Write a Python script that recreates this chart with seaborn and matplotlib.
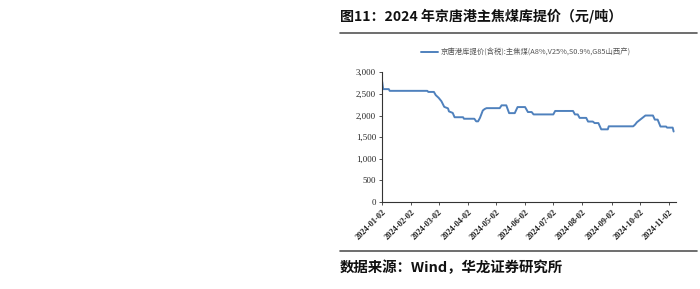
import matplotlib
matplotlib.use("Agg")
import matplotlib.pyplot as plt
import matplotlib.dates as mdates
from matplotlib.lines import Line2D
from matplotlib.ticker import FuncFormatter
import seaborn as sns
import pandas as pd
import numpy as np

# ---- data ----
start_date = "2024-01-02"
day_offsets = [0, 1, 7, 8, 48, 49, 55, 57, 60, 63, 66, 70, 71, 75, 77, 86, 87, 98,
               100, 102, 104, 107, 109, 111, 125, 127, 132, 135, 141, 144, 152, 155,
               159, 161, 182, 184, 203, 205, 208, 210, 217, 219, 224, 226, 230, 233,
               240, 241, 267, 269, 271, 280, 288, 290, 293, 296, 302, 303, 309, 310]
prices = [2780, 2610, 2610, 2570, 2570, 2545, 2545, 2470, 2410, 2330, 2200, 2165, 2095,
          2060, 1960, 1960, 1925, 1925, 1865, 1865, 1945, 2115, 2150, 2170, 2170, 2235,
          2235, 2055, 2055, 2195, 2195, 2080, 2080, 2025, 2025, 2105, 2105, 2025, 2025,
          1945, 1945, 1860, 1860, 1825, 1825, 1680, 1680, 1750, 1750, 1790, 1845, 2000,
          2000, 1905, 1905, 1745, 1745, 1720, 1720, 1630]
tick_labels = ["2024-01-02", "2024-02-02", "2024-03-02", "2024-04-02", "2024-05-02",
               "2024-06-02", "2024-07-02", "2024-08-02", "2024-09-02", "2024-10-02",
               "2024-11-02"]
y_ticks = [0, 500, 1000, 1500, 2000, 2500, 3000]
series_name = "京唐港库提价(含税):主焦煤(A8%,V25%,S0.9%,G85山西产)"
title_text = "图11：2024 年京唐港主焦煤库提价（元/吨）"
source_text = "数据来源：Wind，华龙证券研究所"

df = pd.DataFrame({
    "date": pd.to_datetime(start_date) + pd.to_timedelta(day_offsets, unit="D"),
    "price": prices,
})

sns.set_theme(style="white")
plt.rcParams["font.family"] = ["Noto Sans CJK SC", "DejaVu Sans"]

fig = plt.figure(figsize=(7, 2.89), dpi=100)
ax = fig.add_axes([0.546, 0.301, 0.419, 0.449])

sns.lineplot(data=df, x="date", y="price", ax=ax, color="#4F81BD", linewidth=1.4,
             label=series_name)

ax.set_xlim(pd.Timestamp("2024-01-02"), pd.Timestamp("2024-11-09"))
ax.set_ylim(0, 3000)
ax.set_yticks(y_ticks)
ax.yaxis.set_major_formatter(FuncFormatter(lambda v, p: f"{int(v):,}"))
ticks = pd.to_datetime(tick_labels)
ax.set_xticks(ticks)
ax.set_xticklabels(tick_labels, rotation=45, ha="right", rotation_mode="anchor",
                   fontsize=6, fontweight="bold", family=["Liberation Serif"],
                   color="#222222")
for lab in ax.get_yticklabels():
    lab.set_fontsize(6.3)
    lab.set_family(["Liberation Serif"])
    lab.set_color("#222222")
ax.set_xlabel("")
ax.set_ylabel("")
for s in ["top", "right"]:
    ax.spines[s].set_visible(False)
for s in ["left", "bottom"]:
    ax.spines[s].set_color("#333333")
    ax.spines[s].set_linewidth(0.8)
ax.tick_params(axis="both", which="major", direction="out", length=2.5, width=0.6,
               color="#333333", pad=2, bottom=True, left=True)

leg = ax.legend(loc="lower center", bbox_to_anchor=(0.49, 1.07), frameon=False,
                fontsize=5.3, handlelength=2.3, handletextpad=0.4)
for t in leg.get_texts():
    t.set_color("#555555")

# title, rules, source
fig.text(340 / 700, 1 - 16 / 289, title_text, fontsize=10.1, fontweight="bold",
         va="center", ha="left", color="#111111")
fig.add_artist(Line2D([340 / 700, 697 / 700], [1 - 33 / 289, 1 - 33 / 289],
                      color="#555555", linewidth=1.2, transform=fig.transFigure))
fig.add_artist(Line2D([340 / 700, 697 / 700], [1 - 251 / 289, 1 - 251 / 289],
                      color="#555555", linewidth=1.2, transform=fig.transFigure))
fig.text(340 / 700, 1 - 268 / 289, source_text, fontsize=10.4, fontweight="bold",
         va="center", ha="left", color="#111111")

fig.savefig("out.png", dpi=100)
